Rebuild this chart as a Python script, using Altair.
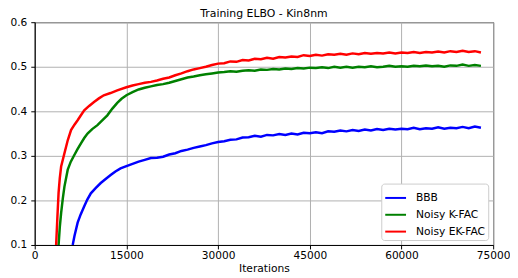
import altair as alt
import pandas as pd

# BBB (blue)
bbb_iter = [6210, 6500, 7020, 7500, 8100, 8600, 9180, 10000, 10800, 11600, 12420, 13200, 14040, 15000] + list(range(16000, 74000, 1000))
bbb_vals = [0.100, 0.120, 0.150, 0.168, 0.187, 0.202, 0.216, 0.228, 0.239, 0.248, 0.257, 0.265, 0.272, 0.277,
            0.282, 0.287, 0.291, 0.295, 0.296, 0.298, 0.303, 0.306, 0.311, 0.314, 0.318, 0.321, 0.324, 0.328,
            0.331, 0.333, 0.336, 0.337, 0.341, 0.342, 0.345, 0.343, 0.347, 0.346, 0.349, 0.347, 0.350, 0.348,
            0.352, 0.351, 0.353, 0.351, 0.355, 0.354, 0.357, 0.355, 0.358, 0.356, 0.359, 0.357, 0.360, 0.358,
            0.361, 0.359, 0.361, 0.360, 0.363, 0.360, 0.362, 0.361, 0.364, 0.361, 0.363, 0.362, 0.365, 0.362,
            0.366, 0.363]

# Noisy K-FAC (green)
kfac_iter = [3900, 4100, 4320, 4600, 4860, 5400, 5900, 6480, 7000, 7560, 8100, 8640, 9400, 10260, 11000, 11880, 12700, 13500, 14200, 15000] + list(range(16000, 74000, 1000))
kfac_vals = [0.100, 0.140, 0.172, 0.205, 0.231, 0.269, 0.287, 0.302, 0.315, 0.328, 0.340, 0.350, 0.360, 0.369, 0.379, 0.391, 0.406, 0.419, 0.428, 0.436,
             0.443, 0.449, 0.453, 0.456, 0.459, 0.461, 0.464, 0.468, 0.472, 0.476, 0.478, 0.481, 0.483, 0.485,
             0.487, 0.488, 0.490, 0.489, 0.491, 0.492, 0.491, 0.494, 0.493, 0.495, 0.494, 0.496, 0.495, 0.497,
             0.496, 0.498, 0.497, 0.499, 0.497, 0.500, 0.498, 0.500, 0.498, 0.500, 0.499, 0.501, 0.499, 0.500,
             0.502, 0.500, 0.501, 0.500, 0.502, 0.501, 0.503, 0.501, 0.502, 0.500, 0.503, 0.502, 0.505, 0.502,
             0.504, 0.502]

# Noisy EK-FAC (red)
ekfac_iter = [3500, 3700, 3900, 4100, 4320, 4860, 5400, 5940, 6500, 7020, 7500, 8100, 8900, 9700, 10500, 11300, 12400, 13500, 15000] + list(range(16000, 74000, 1000))
ekfac_vals = [0.100, 0.160, 0.217, 0.250, 0.276, 0.306, 0.335, 0.358, 0.370, 0.380, 0.390, 0.402, 0.412, 0.421, 0.429, 0.436, 0.441, 0.447, 0.454,
              0.458, 0.461, 0.464, 0.466, 0.469, 0.473, 0.476, 0.481, 0.485, 0.490, 0.494, 0.497, 0.500, 0.504,
              0.507, 0.508, 0.512, 0.511, 0.515, 0.514, 0.518, 0.517, 0.520, 0.518, 0.522, 0.521, 0.523, 0.522,
              0.526, 0.524, 0.527, 0.525, 0.528, 0.527, 0.529, 0.527, 0.530, 0.528, 0.531, 0.529, 0.531, 0.530,
              0.532, 0.530, 0.532, 0.531, 0.533, 0.531, 0.533, 0.532, 0.534, 0.532, 0.535, 0.533, 0.536, 0.533,
              0.535, 0.532]

series_names = ["BBB", "Noisy K-FAC", "Noisy EK-FAC"]
series_colors = ["#0000ff", "#008000", "#ff0000"]

rows = []
for name, its, vals in zip(series_names, [bbb_iter, kfac_iter, ekfac_iter], [bbb_vals, kfac_vals, ekfac_vals]):
    for i, v in zip(its, vals):
        rows.append({"Iterations": i, "ELBO": v, "series": name})
df = pd.DataFrame(rows)

font = "DejaVu Sans"

chart = alt.Chart(df).mark_line(strokeWidth=2.5, clip=True).encode(
    x=alt.X("Iterations:Q", scale=alt.Scale(domain=[0, 75000], nice=False),
            axis=alt.Axis(values=[0, 15000, 30000, 45000, 60000, 75000], title="Iterations",
                          format="d", labelFlush=False, labelPadding=2)),
    y=alt.Y("ELBO:Q", scale=alt.Scale(domain=[0.1, 0.6], nice=False, zero=False),
            axis=alt.Axis(values=[0.1, 0.2, 0.3, 0.4, 0.5, 0.6], title=None, format=".1f",
                          labelFlush=False, labelPadding=4)),
    color=alt.Color("series:N", scale=alt.Scale(domain=series_names, range=series_colors),
                    legend=alt.Legend(title=None, orient="bottom-right", symbolType="stroke",
                                      symbolStrokeWidth=2, symbolSize=441, labelFontSize=10.8,
                                      labelFont=font, labelColor="black", labelOffset=9,
                                      fillColor="white", strokeColor="#cccccc",
                                      padding=3, cornerRadius=3, offset=5, rowPadding=-5)),
    order=alt.Order("Iterations:Q"),
).properties(
    width=463, height=225,
    autosize=alt.AutoSizeParams(type="none"),
    padding={"left": 27, "top": 13, "right": 17, "bottom": 30},
    title=alt.TitleParams("Training ELBO - Kin8nm", font=font, fontSize=11, fontWeight="normal",
                          offset=5, dy=8, color="black"),
).configure_view(
    stroke="black", strokeWidth=1
).configure_axis(
    labelFont=font, labelFontSize=10.7, labelColor="black", titleFont=font, titleFontSize=10.8,
    titleFontWeight="normal", titleColor="black", domainColor="black", tickColor="black",
    gridColor="#b0b0b0", gridWidth=1, tickSize=4, titlePadding=2
)

chart.save("out.html", embed_options={"renderer": "svg", "actions": False})
